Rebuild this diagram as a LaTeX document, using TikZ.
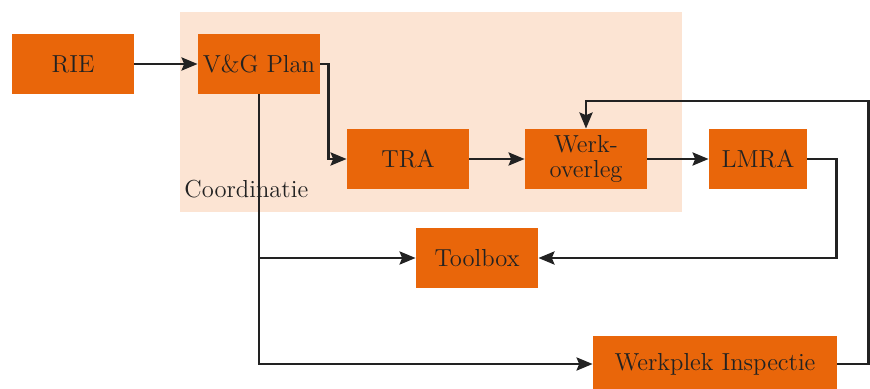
\documentclass[tikz,border=0pt]{standalone}
\usetikzlibrary{arrows.meta}
\definecolor{boxorange}{HTML}{E9660A}
\definecolor{bgpeach}{HTML}{FCE4D3}
\definecolor{ink}{HTML}{222222}
\begin{document}
\begin{tikzpicture}[x=0.5pt,y=-0.5pt,
  box/.style={fill=boxorange, text=ink, minimum width=61pt, minimum height=30pt, inner sep=0pt,
    font=\fontsize{12.3}{12.5}\selectfont, align=center},
  conn/.style={draw=ink, line width=1.45pt, -{Stealth[length=8pt,width=6.5pt,inset=1.3pt]}}]
\useasboundingbox (0,0) rectangle (870,389);
\fill[bgpeach] (180,12) rectangle (682,212);
\node[box] (rie) at (73,64) {RIE};
\node[box] (vg) at (259,64) {V\&G Plan};
\node[box] (tra) at (408,159) {TRA};
\node[box] (wo) at (586,159) {Werk-\\overleg};
\node[box, minimum width=49pt] (lmra) at (758,159) {LMRA};
\node[box] (tool) at (477,258) {Toolbox};
\node[box, minimum width=122pt, minimum height=28pt] (wi) at (715,364) {Werkplek Inspectie};
\node[anchor=west, inner sep=0pt, text=ink, font=\fontsize{12.3}{14}\selectfont] (coord) at (184,189) {Coordinatie};
\coordinate (ltop) at (586,101);
\draw[conn] (rie) -- (vg);
\draw[conn] (vg.east) -- ++(8,0) |- (tra.west);
\draw[conn] (tra) -- (wo);
\draw[conn] (wo) -- (lmra);
\draw[conn] (lmra.east) -- ++(29,0) |- (tool.east);
\draw[conn] (wi.east) -- ++(31,0) |- (ltop) -- (wo.north);
\draw[conn] (vg.south) |- (wi.west);
\draw[conn] (vg.south |- tool.west) -- (tool.west);
\end{tikzpicture}
\end{document}
